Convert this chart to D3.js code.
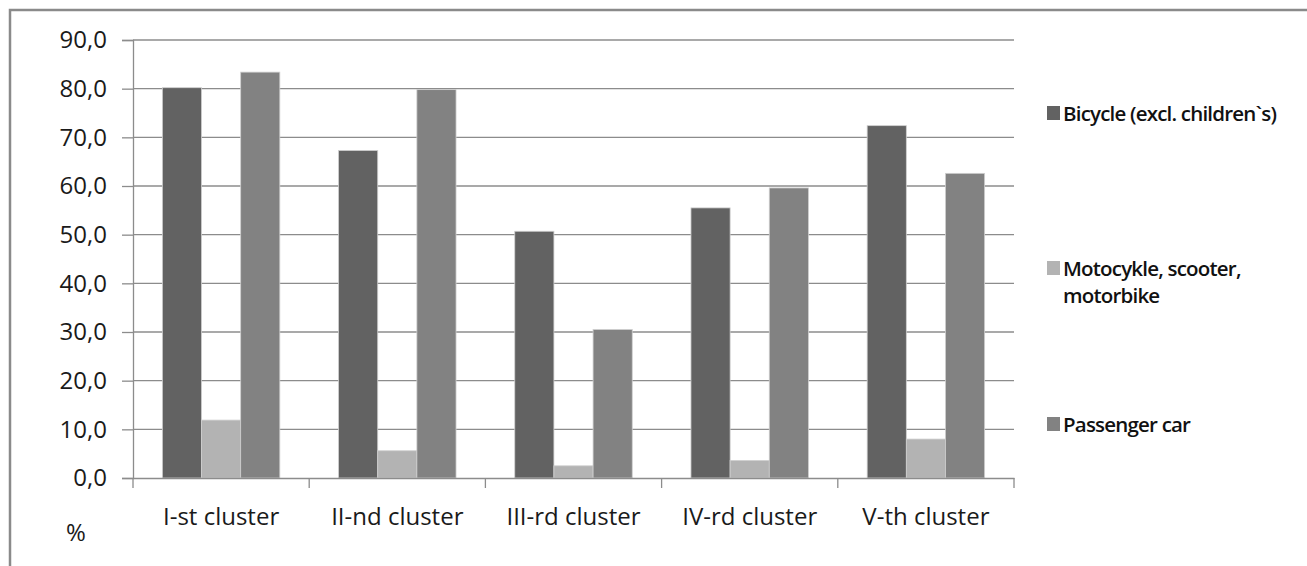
<!DOCTYPE html>
<html>
<head>
<meta charset="utf-8">
<script src="https://cdn.jsdelivr.net/npm/d3@7"></script>
<style>
  html, body { margin: 0; padding: 0; background: #fff; }
  svg { display: block; }
</style>
</head>
<body>
<svg id="chart" width="1307" height="566"></svg>
<script>
const categories = ["I-st cluster", "II-nd cluster", "III-rd cluster", "IV-rd cluster", "V-th cluster"];
const seriesNames = ["Bicycle (excl. children`s)", "Motocykle, scooter, motorbike", "Passenger car"];
const bicycle = [80.2, 67.3, 50.7, 55.5, 72.4];
const motorcycle = [11.9, 5.6, 2.5, 3.6, 8.0];
const passengerCar = [83.4, 79.8, 30.5, 59.6, 62.6];
const yTicks = [0, 10, 20, 30, 40, 50, 60, 70, 80, 90];
const seriesColors = ["#626262", "#b3b3b3", "#828282"];
const legendLines = [["Bicycle (excl. children`s)"], ["Motocykle, scooter,", "motorbike"], ["Passenger car"]];

const series = [bicycle, motorcycle, passengerCar];

const svg = d3.select("#chart");
const margin = { left: 133, right: 1014, top: 40, bottom: 478 };

// outer chart border
svg.append("rect")
  .attr("x", 10).attr("y", 10)
  .attr("width", 1320).attr("height", 600)
  .attr("fill", "none").attr("stroke", "#8a8a8a").attr("stroke-width", 2.5);

const x0 = d3.scaleBand().domain(categories).range([margin.left, margin.right]).paddingInner(0).paddingOuter(0);
const y = d3.scaleLinear().domain([0, 90]).range([margin.bottom, margin.top]);

// gridlines
svg.append("g").selectAll("line").data(yTicks.filter(d => d > 0)).join("line")
  .attr("x1", margin.left).attr("x2", margin.right)
  .attr("y1", d => y(d)).attr("y2", d => y(d))
  .attr("stroke", "#8c8c8c").attr("stroke-width", 1.3);

// y axis
const yAxis = d3.axisLeft(y).tickValues(yTicks).tickSize(11).tickPadding(15)
  .tickFormat(d => d3.format(".1f")(d).replace(".", ","));
const gy = svg.append("g").attr("transform", `translate(${margin.left},0)`).call(yAxis);
gy.select(".domain").attr("stroke", "#8c8c8c").attr("stroke-width", 1.3);
gy.selectAll(".tick line").attr("stroke", "#8c8c8c").attr("stroke-width", 1.3);
gy.selectAll(".tick text")
  .attr("font-family", "'Open Sans', sans-serif").attr("font-size", 24)
  .attr("fill", "#1a1a1a").attr("dy", "0.32em");

// bars (gap width 150%)
const bw = x0.bandwidth() / 4.5;
const x1 = d3.scaleBand().domain(d3.range(series.length)).range([0, bw * 3]).padding(0);
const groups = svg.append("g").selectAll("g").data(categories).join("g")
  .attr("transform", c => `translate(${x0(c) + bw * 0.75},0)`);
groups.selectAll("rect")
  .data((c, ci) => series.map((s, si) => ({ si, v: s[ci] })))
  .join("rect")
  .attr("x", d => x1(d.si))
  .attr("width", x1.bandwidth())
  .attr("y", d => y(d.v))
  .attr("height", d => y(0) - y(d.v))
  .attr("fill", d => seriesColors[d.si])
  .attr("stroke", "#cfcfcf").attr("stroke-width", 0.8);

// x axis
const xAxis = d3.axisBottom(x0).tickSize(0).tickPadding(30);
const gx = svg.append("g").attr("transform", `translate(0,${margin.bottom})`).call(xAxis);
gx.select(".domain").attr("stroke", "#8c8c8c").attr("stroke-width", 1.3);
gx.selectAll(".tick text")
  .attr("font-family", "'Open Sans', sans-serif").attr("font-size", 24)
  .attr("fill", "#1a1a1a");
// category boundary ticks
const bounds = categories.map(c => x0(c)).concat([margin.right]);
svg.append("g").selectAll("line").data(bounds).join("line")
  .attr("x1", d => d).attr("x2", d => d)
  .attr("y1", margin.bottom).attr("y2", margin.bottom + 10)
  .attr("stroke", "#8c8c8c").attr("stroke-width", 1.3);

// "%" label
svg.append("text").attr("x", 76).attr("y", 541).attr("text-anchor", "middle")
  .attr("font-family", "'Open Sans', sans-serif").attr("font-size", 24).attr("fill", "#1a1a1a")
  .text("%");

// legend
const legendY = [121, 276, 432];
const lg = svg.append("g").selectAll("g").data(legendLines).join("g")
  .attr("transform", (d, i) => `translate(1047,${legendY[i]})`);
lg.append("rect").attr("x", 0).attr("y", -15).attr("width", 13).attr("height", 14)
  .attr("fill", (d, i) => seriesColors[i]);
lg.selectAll("text").data(d => d).join("text")
  .attr("x", 16).attr("y", (d, j) => j * 27)
  .attr("font-family", "'Open Sans', sans-serif").attr("font-size", 20.5)
  .attr("font-weight", 600).attr("letter-spacing", "-0.8px")
  .attr("fill", "#111")
  .text(d => d);
</script>
</body>
</html>
